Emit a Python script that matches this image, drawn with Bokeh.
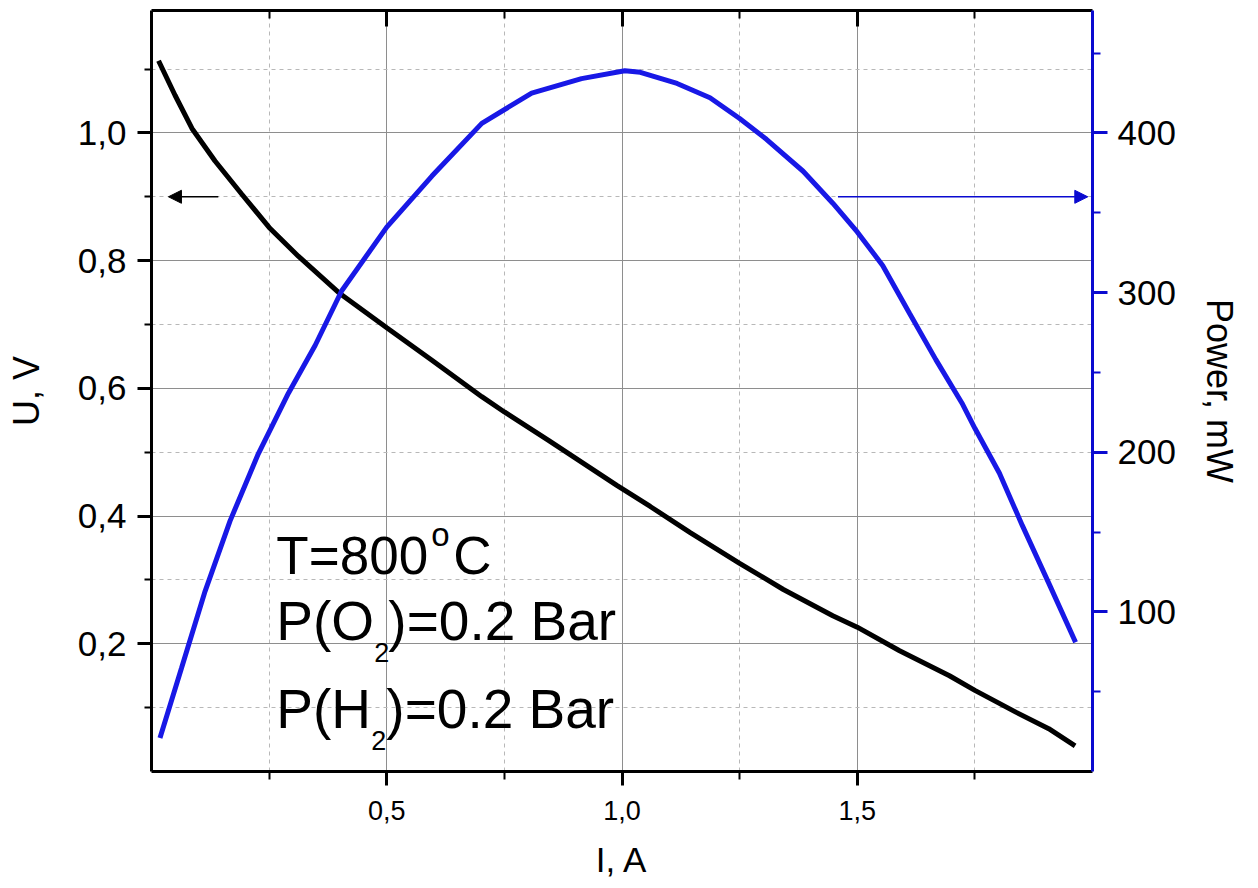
from bokeh.plotting import figure
from bokeh.models import Range1d, LinearAxis, FixedTicker, Label, Arrow, NormalHead
from bokeh.embed import file_html
from bokeh.resources import INLINE

# ---- data ----
current_U_A = [0.015, 0.050, 0.086, 0.135, 0.192, 0.25, 0.312, 0.401, 0.50, 0.596,
               0.702, 0.75, 0.843, 0.989, 1.060, 1.145, 1.25, 1.343, 1.448, 1.5,
               1.59, 1.696, 1.75, 1.837, 1.907, 1.963]
voltage_V = [1.113, 1.059, 1.007, 0.956, 0.904, 0.852, 0.807, 0.748, 0.695, 0.644,
             0.587, 0.563, 0.519, 0.448, 0.415, 0.374, 0.326, 0.285, 0.244, 0.226,
             0.189, 0.150, 0.127, 0.093, 0.067, 0.040]

current_P_A = [0.018, 0.064, 0.114, 0.167, 0.227, 0.291, 0.348, 0.404, 0.50, 0.596,
               0.702, 0.808, 0.914, 1.006, 1.039, 1.117, 1.187, 1.25, 1.307, 1.385,
               1.448, 1.5, 1.554, 1.611, 1.667, 1.724, 1.75, 1.802, 1.851, 1.907, 1.964]
power_mW = [21, 65, 113, 157, 199, 237, 267, 301, 341, 373,
            406, 425, 434, 439, 438, 431, 422, 409, 396, 376,
            356, 338, 317, 287, 258, 230, 215, 187, 154, 118, 81]

x_major = [0.5, 1.0, 1.5]
x_minor = [0.25, 0.75, 1.25, 1.75]
x_labels = {0.5: "0,5", 1.0: "1,0", 1.5: "1,5"}
u_major = [0.2, 0.4, 0.6, 0.8, 1.0]
u_minor = [0.1, 0.3, 0.5, 0.7, 0.9, 1.1]
u_labels = {0.2: "0,2", 0.4: "0,4", 0.6: "0,6", 0.8: "0,8", 1.0: "1,0"}
p_major = [100, 200, 300, 400]
p_minor = [50, 150, 250, 350, 450]

x_range = (0.0, 2.0)
u_range = (0.0, 1.1917)
p_range = (0.0, 476.7)

# arrows (data coordinates)
arrow_U = dict(x_start=0.142, x_end=0.036, y=0.9)
arrow_P = dict(x_start=1.459, x_end=1.99, y=360)

FONT = "Liberation Sans"
BLUE = "#1818e6"
AXBLUE = "#0a0ad0"

p = figure(width=1242, height=886, output_backend="svg", toolbar_location=None,
           x_range=Range1d(*x_range), y_range=Range1d(*u_range),
           min_border_left=151, min_border_right=149, min_border_top=10,
           min_border_bottom=115)
p.extra_y_ranges = {"power": Range1d(*p_range)}
p.outline_line_color = None
p.background_fill_color = "white"
p.border_fill_color = "white"

# grids
for g, maj, mnr in ((p.xgrid[0], x_major, x_minor), (p.ygrid[0], u_major, u_minor)):
    g.ticker = FixedTicker(ticks=maj, minor_ticks=mnr)
    g.grid_line_color = "#8e8e8e"
    g.grid_line_width = 1
    g.minor_grid_line_color = "#b8b8b8"
    g.minor_grid_line_width = 1
    g.minor_grid_line_dash = "4 4"

def style_axis(ax, font_size, color="black"):
    ax.axis_line_width = 3
    ax.axis_line_color = color
    ax.major_tick_line_width = 3
    ax.minor_tick_line_width = 2
    ax.major_tick_line_color = color
    ax.minor_tick_line_color = color
    ax.major_label_text_font = FONT
    ax.major_label_text_font_size = font_size
    ax.major_label_text_color = "black"
    ax.axis_label_text_font = FONT
    ax.axis_label_text_font_style = "normal"
    ax.axis_label_text_color = "black"

# bottom axis
xa = p.xaxis[0]
xa.ticker = FixedTicker(ticks=x_major, minor_ticks=x_minor)
xa.major_label_overrides = x_labels
style_axis(xa, "27px")
xa.major_tick_out = 14
xa.major_tick_in = 0
xa.minor_tick_out = 8
xa.minor_tick_in = 0
xa.major_label_standoff = 15
xa.axis_label = "I, A"
xa.axis_label_text_font_size = "35px"
xa.axis_label_standoff = 17

# left axis
ya = p.yaxis[0]
ya.ticker = FixedTicker(ticks=u_major, minor_ticks=u_minor)
ya.major_label_overrides = u_labels
style_axis(ya, "35px")
ya.major_tick_out = 14
ya.major_tick_in = 0
ya.minor_tick_out = 7
ya.minor_tick_in = 0
ya.major_label_standoff = 11
ya.axis_label = "U, V"
ya.axis_label_text_font_size = "36px"
ya.axis_label_standoff = 28

# top axis (ticks only, inward)
top = LinearAxis(ticker=FixedTicker(ticks=x_major, minor_ticks=x_minor))
style_axis(top, "0px")
top.major_label_text_alpha = 0
top.major_tick_in = 16
top.major_tick_out = 0
top.minor_tick_in = 8
top.minor_tick_out = 0
top.major_label_standoff = 0
p.add_layout(top, "above")

# right axis (power)
ra = LinearAxis(y_range_name="power", ticker=FixedTicker(ticks=p_major, minor_ticks=p_minor))
style_axis(ra, "35px", color=AXBLUE)
ra.major_tick_out = 15
ra.major_tick_in = 0
ra.minor_tick_out = 8
ra.minor_tick_in = 0
ra.major_label_standoff = 10
ra.axis_label = "Power, mW"
ra.axis_label_text_font_size = "36px"
ra.axis_label_standoff = 20
p.add_layout(ra, "right")

# curves
p.line(current_U_A, voltage_V, line_width=5, line_color="black")
p.line(current_P_A, power_mW, line_width=5, line_color=BLUE, y_range_name="power")

# arrows
p.add_layout(Arrow(end=NormalHead(size=13, fill_color="black", line_color="black", line_width=1),
                   x_start=arrow_U["x_start"], x_end=arrow_U["x_end"],
                   y_start=arrow_U["y"], y_end=arrow_U["y"],
                   line_color="black", line_width=1.5))
p.add_layout(Arrow(end=NormalHead(size=13, fill_color=AXBLUE, line_color=AXBLUE, line_width=1),
                   x_start=arrow_P["x_start"], x_end=arrow_P["x_end"],
                   y_start=arrow_P["y"], y_end=arrow_P["y"], y_range_name="power",
                   line_color=AXBLUE, line_width=1.5))

# annotation text (pieces for sub/superscripts): (text, dx px, baseline dy px, font px)
ann_x = 0.2654
rows = [
    (0.309, [("T=800", 0, 0, 53), ("o", 155, 28, 33), ("C", 177, 0, 53)]),
    (0.2056, [("P(O", 0, 0, 55), ("2", 98, -22, 27), (")=0.2 Bar", 112, 0, 55)]),
    (0.068, [("P(H", 0, 0, 55), ("2", 95, -22, 27), (")=0.2 Bar", 110, 0, 55)]),
]
for yb, pieces in rows:
    for txt, dx, dy, fs in pieces:
        p.add_layout(Label(x=ann_x, y=yb, x_offset=dx, y_offset=dy + 0.35 * fs, text=txt,
                           text_font=FONT, text_font_size=f"{fs}px", text_color="black",
                           text_baseline="alphabetic", text_align="left"))

open("out.html", "w").write(file_html(p, INLINE))
